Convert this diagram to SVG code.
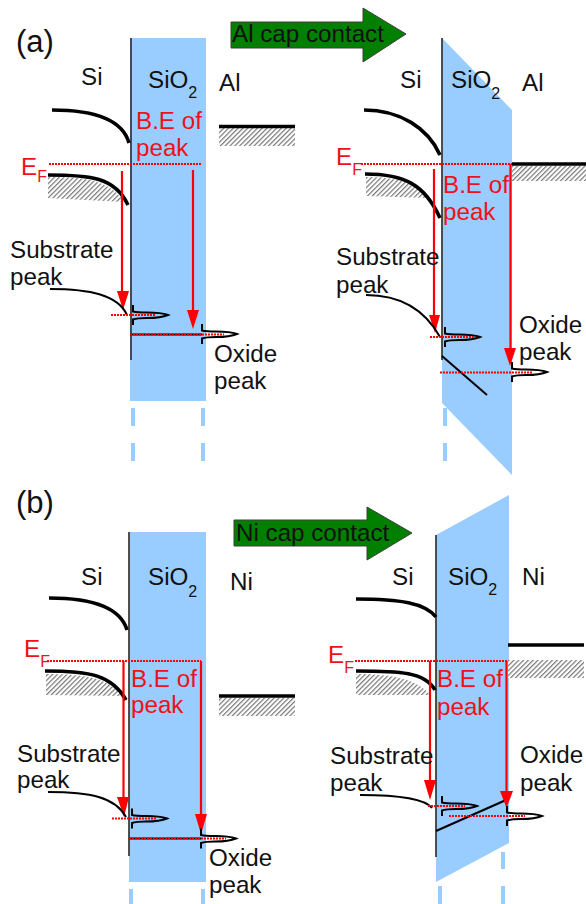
<svg xmlns="http://www.w3.org/2000/svg" xmlns:xlink="http://www.w3.org/1999/xlink" width="586" height="904" viewBox="0 0 586 904">
<style>
text{font-family:"Liberation Sans",Arial,sans-serif;font-size:24.200px;fill:#111}
.red{fill:#f01018}
.sub{font-size:16px}
.tag{font-size:31px}
.ox{fill:#99ccff}
.dash{fill:#99ccff}
.band{fill:none;stroke:#000;stroke-width:3.6}
.wall{stroke:#333;stroke-width:1.7;fill:none}
.thin{fill:none;stroke:#000;stroke-width:2}
.r{stroke:#f00;stroke-width:2.2;fill:none}
.dot{stroke:#f00;stroke-width:1.8;stroke-dasharray:2 1;fill:none}
.head{fill:#f00}
.hatch{fill:url(#h)}
.metal{stroke:#000;stroke-width:3.6;fill:none}
.go{fill:#007f00;stroke:#404040;stroke-width:1}
</style>
<defs>
<pattern id="h" width="3.4" height="3.4" patternUnits="userSpaceOnUse" patternTransform="rotate(45)">
<rect width="3.4" height="3.4" fill="#fff"/><rect width="1.2" height="3.4" fill="#777"/>
</pattern>
<path id="pk" class="thin" d="M0 -10V-3.500Q4 -2.500 14 -2.500Q28 -2.500 35 0Q28 3 14 3Q4 3 0 4.500V10"/>
</defs>

<g id="panel-a-left">
<rect class="ox" x="130" y="38" width="76" height="363"/>
<rect class="dash" x="131" y="408" width="4" height="18"/><rect class="dash" x="131" y="443" width="4" height="18"/>
<rect class="dash" x="201" y="408" width="4" height="18"/><rect class="dash" x="201" y="443" width="4" height="18"/>
<path class="wall" d="M131 38V360"/>
<path class="band" d="M52 110C90 110 122 118 129 143"/>
<path class="hatch" d="M48 177C85 177 110 180 124 202L48 198Z"/>
<path class="band" d="M48 175C90 175 115 177 128 205"/>
<rect class="hatch" x="219" y="128" width="76" height="18"/>
<path class="metal" d="M219 126.500H295"/>
<path class="dot" d="M49 164H202"/>
<path class="r" d="M122 171V295M193 170V314"/>
<path class="head" d="M117 291H129L123 310ZM187 310H199L193 329Z"/>
<path class="thin" d="M50 289C90 289 118 295 127 315"/>
<use xlink:href="#pk" href="#pk" x="133" y="315"/><use xlink:href="#pk" href="#pk" x="202" y="334"/>
<path class="thin" d="M130 334.500H202"/>
<path class="dot" d="M111 315H156M130 334.500H224"/>
<text class="tag" x="16" y="52">(a)</text>
<text x="81" y="85">Si</text><text x="148" y="88">SiO<tspan class="sub" dy="10">2</tspan></text><text x="219" y="91">Al</text>
<text class="red" x="136" y="129">B.E of</text><text class="red" x="136" y="156">peak</text>
<text class="red" x="21" y="175">E<tspan class="sub" dy="7">F</tspan></text>
<text x="10" y="258">Substrate</text><text x="10" y="285">peak</text>
<text x="214" y="362">Oxide</text><text x="214" y="389">peak</text>
</g>

<g id="arrow-al">
<path class="go" d="M231 22H363V8L406 34L363 62V48H231Z"/>
<text x="232" y="42">Al cap contact</text>
</g>

<g id="panel-a-right">
<path class="ox" d="M442 38L512 110V475L442 403Z"/>
<rect class="dash" x="443" y="408" width="4" height="18"/><rect class="dash" x="443" y="443" width="4" height="18"/>
<path class="wall" d="M442 38V360"/>
<path class="thin" d="M442 356L487 395"/>
<path class="band" d="M364 110C400 110 428 128 440 155"/>
<path class="hatch" d="M366 177C395 177 414 182 430 198L366 196Z"/>
<path class="band" d="M365 174C405 174 425 185 440 218"/>
<rect class="hatch" x="512" y="166" width="74" height="15"/>
<path class="metal" d="M512 164H586"/>
<path class="dot" d="M361 164H512"/>
<path class="r" d="M434 169V320M510.500 164V352"/>
<path class="head" d="M429 315H440L435 333ZM504 348H516L510 366Z"/>
<path class="thin" d="M366 295C400 295 425 310 440 337"/>
<use xlink:href="#pk" href="#pk" x="445" y="337"/><use xlink:href="#pk" href="#pk" x="512" y="372"/>
<path class="dot" d="M430 337H475M440 372.500H533"/>
<text x="400" y="88">Si</text><text x="451" y="88">SiO<tspan class="sub" dy="11">2</tspan></text><text x="522" y="91">Al</text>
<text class="red" x="443" y="193">B.E of</text><text class="red" x="443" y="220">peak</text>
<text class="red" x="336" y="165">E<tspan class="sub" dy="10">F</tspan></text>
<text x="336" y="265">Substrate</text><text x="336" y="293">peak</text>
<text x="519" y="333">Oxide</text><text x="519" y="360">peak</text>
</g>

<g id="panel-b-left">
<rect class="ox" x="129" y="532" width="77" height="350"/>
<rect class="dash" x="129" y="889" width="4" height="15"/><rect class="dash" x="201" y="889" width="4" height="15"/>
<path class="wall" d="M129 532V856"/>
<path class="band" d="M49 598C90 598 120 606 127 630"/>
<path class="hatch" d="M46 674C85 674 108 678 124 696L46 695Z"/>
<path class="band" d="M45 671C90 671 112 675 126 700"/>
<rect class="hatch" x="219" y="698" width="76" height="18"/>
<path class="metal" d="M219 696H295"/>
<path class="dot" d="M47 661H201"/>
<path class="r" d="M123.500 661V800M201 661V818"/>
<path class="head" d="M117 797H129L124 817ZM195 814H207L201 834Z"/>
<path class="thin" d="M48 792C90 792 115 797 126 817"/>
<use xlink:href="#pk" href="#pk" x="132" y="818.500"/><use xlink:href="#pk" href="#pk" x="201" y="838.500"/>
<path class="thin" d="M129 838.500H201"/>
<path class="dot" d="M112 818.500H156M129 838.500H226"/>
<text class="tag" x="16" y="513">(b)</text>
<text x="81" y="585">Si</text><text x="148" y="585">SiO<tspan class="sub" dy="12">2</tspan></text><text x="230" y="590">Ni</text>
<text class="red" x="131" y="687">B.E of</text><text class="red" x="131" y="713">peak</text>
<text class="red" x="24" y="657">E<tspan class="sub" dy="10">F</tspan></text>
<text x="17" y="762">Substrate</text><text x="17" y="788">peak</text>
<text x="209" y="866">Oxide</text><text x="209" y="893">peak</text>
</g>

<g id="arrow-ni">
<path class="go" d="M234 520H367V507L412 533L367 560V546H234Z"/>
<text x="236" y="541">Ni cap contact</text>
</g>

<g id="panel-b-right">
<path class="ox" d="M436 535L509 495V843L436 882Z"/>
<rect class="dash" x="438" y="886" width="4" height="18"/>
<rect class="dash" x="501" y="852" width="4" height="17"/><rect class="dash" x="501" y="886" width="4" height="18"/>
<path class="wall" d="M436 535V857"/>
<path class="thin" d="M436 831L506 800"/>
<path class="band" d="M356 599C400 599 425 603 436 617"/>
<path class="hatch" d="M356 674C395 674 418 680 430 695L356 695Z"/>
<path class="band" d="M356 671C400 671 425 672 435 690"/>
<rect class="hatch" x="508" y="660" width="76" height="18"/>
<path class="metal" d="M508 645H584"/>
<path class="dot" d="M355 661H507"/>
<path class="r" d="M430 661V785M506.500 661V795"/>
<path class="head" d="M424 780H436L430 800ZM500 791H513L506.500 808Z"/>
<path class="thin" d="M360 795C400 795 425 799 432 808"/>
<use xlink:href="#pk" href="#pk" x="442" y="806"/><use xlink:href="#pk" href="#pk" x="507" y="816"/>
<path class="dot" d="M428 806H465M449 816H525"/>
<text x="392" y="585">Si</text><text x="448" y="585">SiO<tspan class="sub" dy="10">2</tspan></text><text x="522" y="585">Ni</text>
<text class="red" x="437" y="687">B.E of</text><text class="red" x="437" y="715">peak</text>
<text class="red" x="328" y="663">E<tspan class="sub" dy="10">F</tspan></text>
<text x="330" y="764">Substrate</text><text x="330" y="791">peak</text>
<text x="520" y="763">Oxide</text><text x="520" y="791">peak</text>
</g>
</svg>
